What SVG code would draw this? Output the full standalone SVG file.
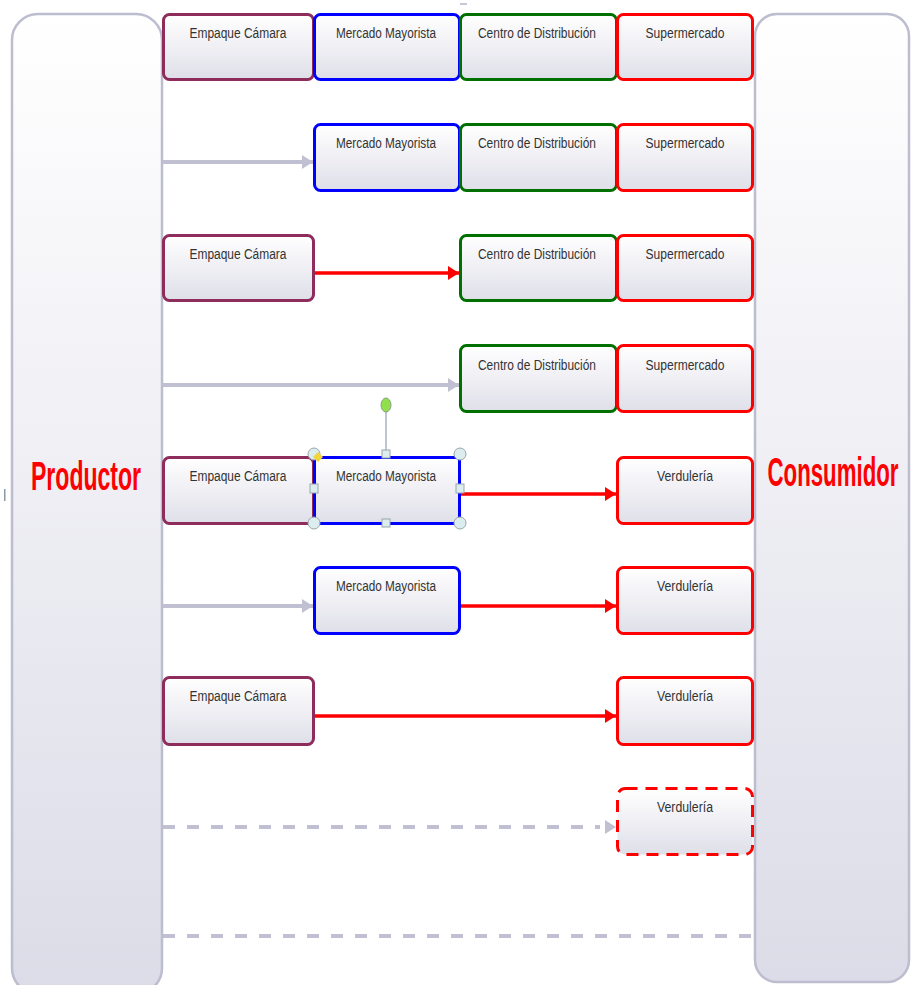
<svg xmlns="http://www.w3.org/2000/svg" width="912" height="985" viewBox="0 0 912 985">
<defs>
<linearGradient id="gPanel" x1="0" y1="0" x2="0" y2="1">
<stop offset="0" stop-color="#ffffff"/>
<stop offset="1" stop-color="#dcdce8"/>
</linearGradient>
<linearGradient id="gBox" x1="0" y1="0" x2="0" y2="1">
<stop offset="0" stop-color="#ffffff"/>
<stop offset="1" stop-color="#dfdfe9"/>
</linearGradient>
<marker id="aRed" markerUnits="userSpaceOnUse" markerWidth="12" markerHeight="14" refX="11" refY="7" orient="auto">
<path d="M0,0 L11,7 L0,14 Z" fill="#ff0000"/>
</marker>
<marker id="aGray" markerUnits="userSpaceOnUse" markerWidth="12" markerHeight="14" refX="11" refY="7" orient="auto">
<path d="M0,0 L11,7 L0,14 Z" fill="#c0c0d2"/>
</marker>
<style>
.panel{fill:url(#gPanel);stroke:#bdbdd0;stroke-width:2.5}
.box{fill:url(#gBox);stroke-width:3}
.emp{stroke:#8e2c5c}
.mer{stroke:#0000ff}
.cen{stroke:#007000}
.sup{stroke:#ff0000}
.lbl{font-family:"Liberation Sans",Arial,sans-serif;font-size:14px;fill:#333333;text-anchor:middle}
.big{font-family:"Liberation Sans",Arial,sans-serif;font-size:40px;font-weight:bold;fill:#ff0000;text-anchor:middle}
.red{stroke:#ff0000;stroke-width:3.5;fill:none;marker-end:url(#aRed)}
.gray{stroke:#c0c0d2;stroke-width:4;fill:none;marker-end:url(#aGray)}
.dash{stroke:#c0c0d2;stroke-width:4;fill:none;stroke-dasharray:12 12}
.hc{fill:#dcedf0;stroke:#9aa6aa;stroke-width:1}
</style>
</defs>
<rect width="912" height="985" fill="#ffffff"/>

<g id="productor">
<rect class="panel" x="12" y="14" width="150" height="980" rx="26"/>
<text class="big" transform="translate(86,490) scale(0.576,1)">Productor</text>
</g>
<g id="consumidor">
<rect class="panel" x="755" y="14" width="154" height="968" rx="22"/>
<text class="big" transform="translate(833,486) scale(0.556,1)">Consumidor</text>
</g>

<g id="connectors">
<line class="gray" x1="163" y1="162" x2="313" y2="162"/>
<line class="red" x1="315" y1="273" x2="459" y2="273"/>
<line class="gray" x1="163" y1="385" x2="459" y2="385"/>
<line class="red" x1="461" y1="494" x2="616" y2="494"/>
<line class="gray" x1="163" y1="606" x2="313" y2="606"/>
<line class="red" x1="461" y1="606" x2="616" y2="606"/>
<line class="red" x1="315" y1="716" x2="616" y2="716"/>
<line class="dash" x1="163" y1="827" x2="600" y2="827"/>
<path d="M605,820 L616,827 L605,834 Z" fill="#c0c0d2"/>
<line class="dash" x1="163" y1="936" x2="754" y2="936"/>
</g>

<!-- Row 1 -->
<g id="r1-empaque"><rect class="box emp" x="163.5" y="14.5" width="150" height="65" rx="6"/><text class="lbl" x="238" y="38" textLength="97" lengthAdjust="spacingAndGlyphs">Empaque Cámara</text></g>
<g id="r1-mercado"><rect class="box mer" x="314.5" y="14.5" width="145" height="65" rx="6"/><text class="lbl" x="386" y="38" textLength="100" lengthAdjust="spacingAndGlyphs">Mercado Mayorista</text></g>
<g id="r1-centro"><rect class="box cen" x="460.5" y="14.5" width="156" height="65" rx="6"/><text class="lbl" x="537" y="38" textLength="118" lengthAdjust="spacingAndGlyphs">Centro de Distribución</text></g>
<g id="r1-super"><rect class="box sup" x="617.5" y="14.5" width="135" height="65" rx="6"/><text class="lbl" x="685" y="38" textLength="79" lengthAdjust="spacingAndGlyphs">Supermercado</text></g>

<!-- Row 2 -->
<g id="r2-mercado"><rect class="box mer" x="314.5" y="124.5" width="145" height="66" rx="6"/><text class="lbl" x="386" y="148" textLength="100" lengthAdjust="spacingAndGlyphs">Mercado Mayorista</text></g>
<g id="r2-centro"><rect class="box cen" x="460.5" y="124.5" width="156" height="66" rx="6"/><text class="lbl" x="537" y="148" textLength="118" lengthAdjust="spacingAndGlyphs">Centro de Distribución</text></g>
<g id="r2-super"><rect class="box sup" x="617.5" y="124.5" width="135" height="66" rx="6"/><text class="lbl" x="685" y="148" textLength="79" lengthAdjust="spacingAndGlyphs">Supermercado</text></g>

<!-- Row 3 -->
<g id="r3-empaque"><rect class="box emp" x="163.5" y="235.5" width="150" height="65" rx="6"/><text class="lbl" x="238" y="259" textLength="97" lengthAdjust="spacingAndGlyphs">Empaque Cámara</text></g>
<g id="r3-centro"><rect class="box cen" x="460.5" y="235.5" width="156" height="65" rx="6"/><text class="lbl" x="537" y="259" textLength="118" lengthAdjust="spacingAndGlyphs">Centro de Distribución</text></g>
<g id="r3-super"><rect class="box sup" x="617.5" y="235.5" width="135" height="65" rx="6"/><text class="lbl" x="685" y="259" textLength="79" lengthAdjust="spacingAndGlyphs">Supermercado</text></g>

<!-- Row 4 -->
<g id="r4-centro"><rect class="box cen" x="460.5" y="345.5" width="156" height="66" rx="6"/><text class="lbl" x="537" y="370" textLength="118" lengthAdjust="spacingAndGlyphs">Centro de Distribución</text></g>
<g id="r4-super"><rect class="box sup" x="617.5" y="345.5" width="135" height="66" rx="6"/><text class="lbl" x="685" y="370" textLength="79" lengthAdjust="spacingAndGlyphs">Supermercado</text></g>

<!-- Row 5 -->
<g id="r5-empaque"><rect class="box emp" x="163.5" y="457.5" width="150" height="66" rx="6"/><text class="lbl" x="238" y="481" textLength="97" lengthAdjust="spacingAndGlyphs">Empaque Cámara</text></g>
<g id="r5-mercado"><rect class="box mer" x="314.5" y="457.5" width="145" height="66" rx="3"/><text class="lbl" x="386" y="481" textLength="100" lengthAdjust="spacingAndGlyphs">Mercado Mayorista</text></g>
<g id="r5-verduleria"><rect class="box sup" x="617.5" y="457.5" width="135" height="66" rx="6"/><text class="lbl" x="685" y="481" textLength="56" lengthAdjust="spacingAndGlyphs">Verdulería</text></g>

<!-- Row 6 -->
<g id="r6-mercado"><rect class="box mer" x="314.5" y="567.5" width="145" height="66" rx="6"/><text class="lbl" x="386" y="591" textLength="100" lengthAdjust="spacingAndGlyphs">Mercado Mayorista</text></g>
<g id="r6-verduleria"><rect class="box sup" x="617.5" y="567.5" width="135" height="66" rx="6"/><text class="lbl" x="685" y="591" textLength="56" lengthAdjust="spacingAndGlyphs">Verdulería</text></g>

<!-- Row 7 -->
<g id="r7-empaque"><rect class="box emp" x="163.5" y="677.5" width="150" height="67" rx="6"/><text class="lbl" x="238" y="701" textLength="97" lengthAdjust="spacingAndGlyphs">Empaque Cámara</text></g>
<g id="r7-verduleria"><rect class="box sup" x="617.5" y="677.5" width="135" height="67" rx="6"/><text class="lbl" x="685" y="701" textLength="56" lengthAdjust="spacingAndGlyphs">Verdulería</text></g>

<!-- Row 8 -->
<g id="r8-verduleria"><rect class="box" x="617.5" y="788.5" width="135" height="66" rx="8" stroke="#ff0000" stroke-dasharray="12 8" stroke-width="3.5"/><text class="lbl" x="685" y="812" textLength="56" lengthAdjust="spacingAndGlyphs">Verdulería</text></g>

<!-- Selection handles on row 5 Mercado Mayorista -->
<g id="selection">
<line x1="386" y1="410" x2="386" y2="457" stroke="#8ea2b4" stroke-width="1.2"/>
<ellipse cx="386" cy="405" rx="5" ry="7" fill="#8fe04a" stroke="#8aa08a" stroke-width="1"/>
<circle class="hc" cx="314" cy="454" r="6"/>
<circle class="hc" cx="460" cy="454" r="6"/>
<circle class="hc" cx="314" cy="523" r="6"/>
<circle class="hc" cx="460" cy="523" r="6"/>
<rect class="hc" x="382" y="450" width="8" height="8"/>
<rect class="hc" x="382" y="519" width="8" height="8"/>
<rect class="hc" x="310" y="484" width="8" height="9"/>
<rect class="hc" x="456" y="484" width="8" height="9"/>
<path d="M318,452 L323,457 L318,462 L313,457 Z" fill="#f3d43a"/>
</g>
<rect x="460" y="3" width="7" height="2" fill="#c8c8d4"/>
<rect x="4" y="489" width="1.5" height="12" fill="#8a98a8"/>
</svg>
